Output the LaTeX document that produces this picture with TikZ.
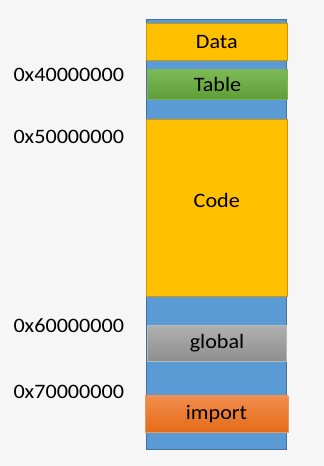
\documentclass[tikz,border=0pt]{standalone}
\usepackage{fontspec}
\setmainfont{Carlito}[FakeStretch=1.08]
\begin{document}
\begin{tikzpicture}[x=1pt,y=-1pt,
  every node/.style={font=\fontsize{20.5}{24}\selectfont, text=black},
  seg/.style={rectangle, inner sep=0pt, outer sep=0pt, line width=0.8pt},
  addr/.style={anchor=west, inner sep=0pt}]
  \definecolor{bgc}{HTML}{F6F6F6}
  \definecolor{memblue}{HTML}{5B9BD5}
  \definecolor{memedge}{HTML}{41719C}
  \definecolor{gold}{HTML}{FFC000}
  \definecolor{goldedge}{HTML}{C9980A}
  \definecolor{greentop}{HTML}{7DBA56}
  \definecolor{greenbot}{HTML}{5F9E37}
  \definecolor{greyedge}{HTML}{9A9A9A}
  \definecolor{greytop}{HTML}{B0B0B0}
  \definecolor{greybot}{HTML}{8E8E8E}
  \definecolor{orangetop}{HTML}{F28C4C}
  \definecolor{orangebot}{HTML}{E46C17}
  % canvas
  \fill[bgc] (0,0) rectangle (324,466);
  \useasboundingbox (0,0) rectangle (324,466);
  % memory column
  \node[seg, draw=memedge, fill=memblue, minimum width=140.4pt, minimum height=430pt] (mem) at (216.5,234.3) {};
  % segments
  \node[seg, draw=goldedge, fill=gold, minimum width=141.7pt, minimum height=37pt] (data) at (216.8,41.8) {Data};
  \node[seg, draw=greenbot!80!white, top color=greentop, bottom color=greenbot, minimum width=140.4pt, minimum height=30pt] (table) at (217.5,84.3) {Table};
  \node[seg, draw=goldedge, fill=gold, minimum width=141.7pt, minimum height=177.4pt] (code) at (216.8,208) {};
  \node (codelabel) at (216.8,200) {Code};
  \node[seg, draw=greyedge!70!white, top color=greytop, bottom color=greybot, minimum width=139.4pt, minimum height=36.3pt] (global) at (217,343.2) {global};
  \node[seg, draw=orangebot!70!white, top color=orangetop, bottom color=orangebot, minimum width=143pt, minimum height=36.7pt] (import) at (216.5,414.3) {import};
  % addresses
  \node[addr] (a4) at (13.3,74.5) {0x40000000};
  \node[addr] (a5) at (13.3,136.5) {0x50000000};
  \node[addr] (a6) at (13.3,326) {0x60000000};
  \node[addr] (a7) at (13.3,392) {0x70000000};
\end{tikzpicture}
\end{document}
